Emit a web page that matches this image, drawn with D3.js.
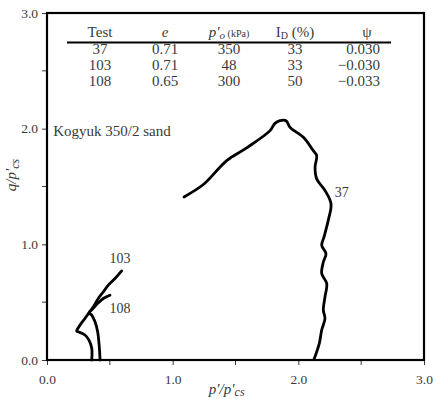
<!DOCTYPE html>
<html>
<head>
<meta charset="utf-8">
<script src="https://cdn.jsdelivr.net/npm/d3@7"></script>
<style>
  body { margin: 0; background: #fff; }
  svg { display: block; font-family: "Liberation Serif", "DejaVu Serif", serif; }
</style>
</head>
<body>
<script>
// stress paths, normalised by p'cs: [p'/p'cs, q/p'cs]
var test37 = [[2.125,0.006],[2.167,0.144],[2.186,0.259],[2.212,0.359],[2.199,0.431],[2.212,0.546],
  [2.226,0.661],[2.186,0.747],[2.199,0.847],[2.22,0.92],[2.186,0.991],[2.204,1.063],[2.238,1.207],
  [2.26,1.351],[2.212,1.466],[2.146,1.566],[2.133,1.666],[2.146,1.767],[2.119,1.81],[2.04,1.925],
  [1.934,2.011],[1.902,2.069],[1.854,2.069],[1.814,2.046],[1.775,1.983],[1.589,1.834],[1.43,1.724],
  [1.244,1.517],[1.09,1.41]];
var test103 = [[0.356,0.0],[0.356,0.101],[0.334,0.172],[0.302,0.216],[0.249,0.244],[0.236,0.25],
  [0.263,0.302],[0.302,0.359],[0.334,0.408],[0.368,0.459],[0.408,0.532],[0.448,0.589],[0.488,0.647],
  [0.541,0.704],[0.594,0.77]];
var test108 = [[0.422,0.0],[0.416,0.115],[0.403,0.244],[0.382,0.33],[0.356,0.388],[0.334,0.408],
  [0.368,0.446],[0.408,0.494],[0.448,0.532],[0.501,0.56]];

var curveNames = ["37", "103", "108"];
var labelPos = [[2.345, 1.41], [0.58, 0.84], [0.58, 0.41]];

var tableHead = ["Test", "e", "p'o", "ID (%)", "ψ"];
var tableTest = ["37", "103", "108"];
var tableE = ["0.71", "0.71", "0.65"];
var tableP0 = ["350", "48", "300"];
var tableID = ["33", "33", "50"];
var tablePsi = ["0.030", "\u22120.030", "\u22120.033"];

var majorTicks = [0, 1, 2, 3];
var minorTicks = [0.5, 1.5, 2.5];

function init() {
  var w = 434, h = 399;
  var m = {left: 47, right: 10, top: 13, bottom: 39};

  var svg = d3.select("body").append("svg")
    .attr("width", w).attr("height", h);

  var x = d3.scaleLinear().domain([0, 3]).range([m.left, w - m.right]);
  var y = d3.scaleLinear().domain([0, 3]).range([h - m.bottom, m.top]);

  var ink = "#3a3a3a";

  // x axis
  var xAxis = svg.append("g").attr("transform", "translate(0," + y(0) + ")");
  xAxis.call(d3.axisBottom(x).tickValues(majorTicks).tickFormat(d3.format(".1f"))
      .tickSize(5).tickSizeOuter(0))
    .call(function(g) { g.select(".domain").remove(); });
  xAxis.selectAll(".tick line").attr("stroke", ink);
  xAxis.selectAll("text").attr("font-size", 13.5).attr("fill", ink).attr("dy", "1.15em")
    .attr("font-family", "Liberation Serif, serif");
  xAxis.selectAll(".minor").data(minorTicks).enter().append("line")
    .attr("x1", function(d) { return x(d); }).attr("x2", function(d) { return x(d); })
    .attr("y1", 0).attr("y2", 5).attr("stroke", ink);

  // y axis
  var yAxis = svg.append("g").attr("transform", "translate(" + x(0) + ",0)");
  yAxis.call(d3.axisLeft(y).tickValues(majorTicks).tickFormat(d3.format(".1f"))
      .tickSize(5).tickSizeOuter(0))
    .call(function(g) { g.select(".domain").remove(); });
  yAxis.selectAll(".tick line").attr("stroke", ink);
  yAxis.selectAll("text").attr("font-size", 13.5).attr("fill", ink).attr("x", -9)
    .attr("font-family", "Liberation Serif, serif");
  yAxis.selectAll(".minor").data(minorTicks).enter().append("line")
    .attr("y1", function(d) { return y(d); }).attr("y2", function(d) { return y(d); })
    .attr("x1", 0).attr("x2", -5).attr("stroke", ink);

  // frame
  svg.append("rect")
    .attr("x", x(0)).attr("y", y(3))
    .attr("width", x(3) - x(0)).attr("height", y(0) - y(3))
    .attr("fill", "none").attr("stroke", "#000").attr("stroke-width", 2.2);

  // axis titles
  var xt = svg.append("text").attr("x", x(1.43)).attr("y", h - 5)
    .attr("text-anchor", "middle").attr("font-size", 15).attr("font-style", "italic").attr("fill", ink);
  xt.append("tspan").text("p\u2032/p\u2032");
  xt.append("tspan").text("cs").attr("font-size", 12).attr("dy", 2);

  var yt = svg.append("text")
    .attr("transform", "translate(16," + y(1.6) + ") rotate(-90)")
    .attr("text-anchor", "middle").attr("font-size", 15).attr("font-style", "italic").attr("fill", ink);
  yt.append("tspan").text("q/p\u2032");
  yt.append("tspan").text("cs").attr("font-size", 12).attr("dy", 3);

  // stress paths
  var line = d3.line()
    .x(function(d) { return x(d[0]); })
    .y(function(d) { return y(d[1]); })
    .curve(d3.curveCatmullRom.alpha(0.5));

  var series = [test37, test103, test108];
  svg.selectAll("path.sp").data(series).enter().append("path")
    .attr("class", "sp")
    .attr("d", line)
    .attr("fill", "none").attr("stroke", "#000").attr("stroke-width", 2.8)
    .attr("stroke-linejoin", "round").attr("stroke-linecap", "round");

  svg.selectAll("text.lbl").data(curveNames).enter().append("text")
    .attr("class", "lbl")
    .attr("x", function(d, i) { return x(labelPos[i][0]); })
    .attr("y", function(d, i) { return y(labelPos[i][1]); })
    .attr("text-anchor", "middle").attr("font-size", 14).attr("fill", ink)
    .text(function(d) { return d; });

  svg.append("text").attr("x", x(0.05)).attr("y", y(1.94))
    .attr("font-size", 15).attr("fill", ink).text("Kogyuk 350/2 sand");

  // table
  var colX = [100, 165, 229, 295, 380];
  var anchors = ["middle", "middle", "middle", "middle", "end"];
  var tbl = svg.append("g").attr("font-size", 15).attr("fill", ink);

  tbl.append("text").attr("x", colX[0]).attr("y", 37).attr("text-anchor", "middle").text(tableHead[0]);
  tbl.append("text").attr("x", colX[1]).attr("y", 37).attr("text-anchor", "middle")
    .attr("font-style", "italic").text(tableHead[1]);
  var ph = tbl.append("text").attr("x", colX[2]).attr("y", 37).attr("text-anchor", "middle");
  ph.append("tspan").attr("font-style", "italic").text("p\u2032");
  ph.append("tspan").attr("font-style", "italic").attr("font-size", 11).attr("dy", 2).text("o");
  ph.append("tspan").attr("font-size", 10).attr("dy", -2).text(" (kPa)");
  var ih = tbl.append("text").attr("x", colX[3]).attr("y", 37).attr("text-anchor", "middle");
  ih.append("tspan").text("I");
  ih.append("tspan").attr("font-size", 10).attr("dy", 2).text("D");
  ih.append("tspan").attr("dy", -2).text(" (%)");
  tbl.append("text").attr("x", 367).attr("y", 37).attr("text-anchor", "middle").text(tableHead[4]);

  tbl.append("line").attr("x1", 67).attr("x2", 391).attr("y1", 42.5).attr("y2", 42.5)
    .attr("stroke", "#000").attr("stroke-width", 1.8);

  var cols = [tableTest, tableE, tableP0, tableID, tablePsi];
  var rowY = [54, 70, 86];
  cols.forEach(function(col, c) {
    tbl.selectAll(null).data(col).enter().append("text")
      .attr("x", colX[c])
      .attr("y", function(d, i) { return rowY[i]; })
      .attr("text-anchor", anchors[c])
      .text(function(d) { return d; });
  });
}
window.onload = init;
</script>
</body>
</html>
